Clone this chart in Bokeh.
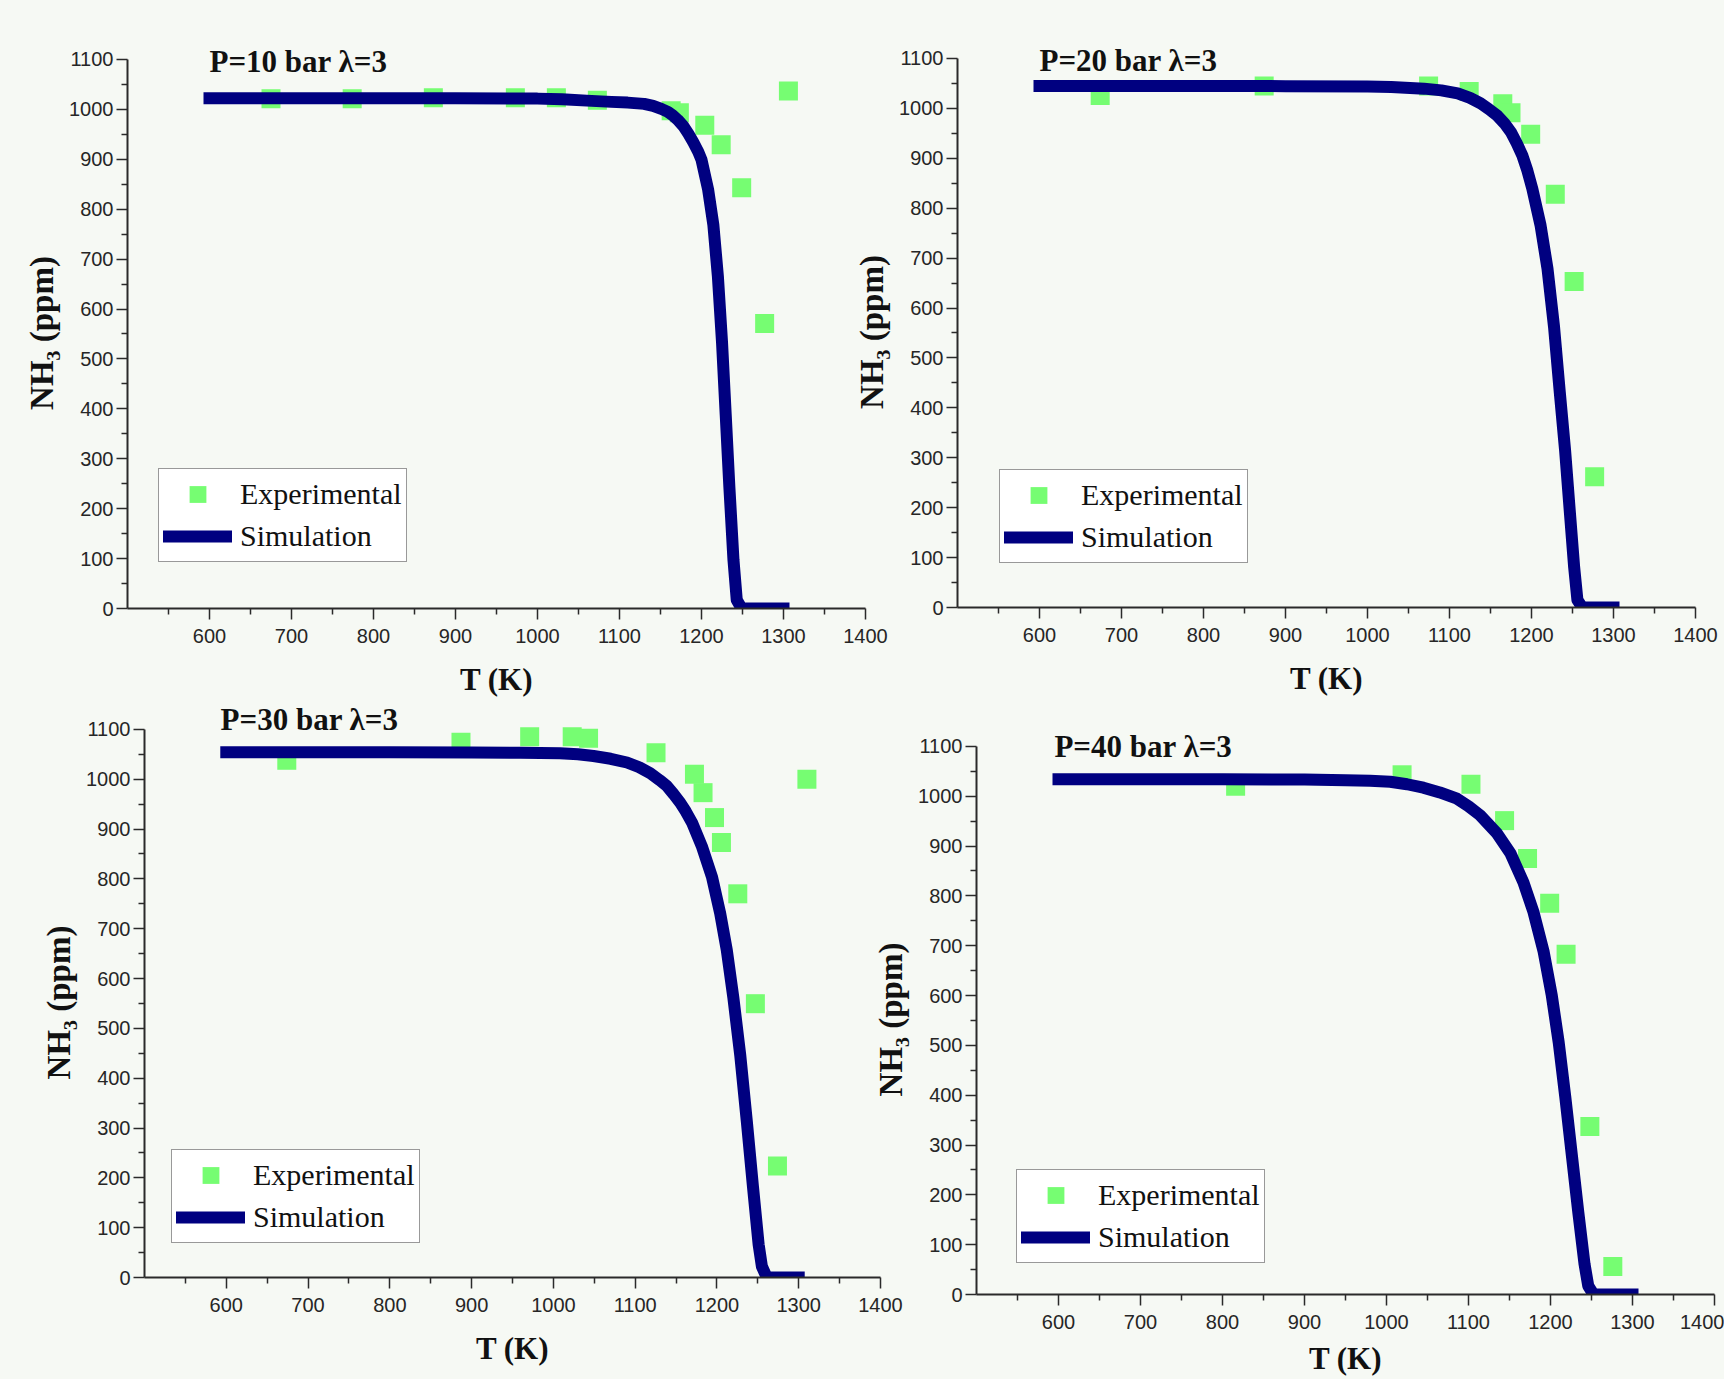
from bokeh.plotting import figure
from bokeh.layouts import column, row
from bokeh.models import (Range1d, FixedTicker, Label, Legend, LegendItem,
                          GlobalInlineStyleSheet)
from bokeh.embed import file_html
from bokeh.resources import INLINE

# ---------------- data ----------------
titles = ["P=10 bar \u03bb=3", "P=20 bar \u03bb=3", "P=30 bar \u03bb=3", "P=40 bar \u03bb=3"]

exp_T_10 = [675, 774, 873, 973, 1023, 1073, 1163, 1173, 1204, 1224, 1249, 1277, 1306]
exp_N_10 = [1021, 1021, 1023, 1023, 1023, 1018, 997, 993, 968, 929, 843, 571, 1037]
sim_T_10 = [600, 700, 800, 900, 1000, 1030, 1060, 1090, 1110, 1130, 1141, 1151, 1159, 1165,
            1171, 1178, 1184, 1190, 1196, 1200, 1208, 1214.5, 1220, 1225, 1229.5, 1234,
            1239, 1243, 1249, 1300]
sim_N_10 = [1022, 1022, 1022, 1022, 1021.5, 1020, 1017.5, 1015, 1013.5, 1011, 1007, 1001, 995, 988,
            979, 966, 951, 934, 915, 899, 840, 768, 665, 534, 389, 243,
            97, 17, 0, 0]

exp_T_20 = [674, 874, 1074.5, 1124, 1165, 1175, 1199, 1229, 1252, 1277]
exp_N_20 = [1026, 1045, 1045, 1034, 1009, 991, 948, 828, 653, 262]
sim_T_20 = [600, 700, 800, 900, 1000, 1029, 1069, 1090, 1110, 1125, 1138, 1148, 1158.5, 1167,
            1175, 1182, 1189, 1195, 1201, 1211, 1219.5, 1227.5, 1234.5, 1241, 1246.5,
            1252, 1256, 1262, 1300]
sim_N_20 = [1045, 1045, 1045, 1044.5, 1044, 1043, 1039.5, 1036, 1030, 1021, 1010, 998.5, 985, 970,
            952, 930, 905, 875, 839, 766, 679, 562, 431, 314, 197,
            81, 15, 0, 0]

exp_T_30 = [674, 887, 971, 1023, 1043, 1125.5, 1172.5, 1183, 1197, 1205.5, 1225.5, 1247, 1274, 1310]
exp_N_30 = [1038, 1074, 1085, 1085, 1082, 1053, 1010, 973, 923, 873, 770, 549.5, 224, 1000]
sim_T_30 = [600, 700, 800, 900, 960, 1008, 1030, 1049, 1070, 1090, 1105, 1118.5, 1130, 1139,
            1147, 1155, 1162, 1169.5, 1181.5, 1194, 1204, 1212, 1220, 1228.5, 1236.5,
            1244, 1251, 1255, 1261, 1300]
sim_N_30 = [1054, 1054, 1054, 1053.5, 1053, 1052, 1050, 1046.5, 1041, 1033.5, 1024, 1012, 998, 986,
            970, 953, 935, 913, 865.5, 803.5, 730.5, 657.5, 562.5, 446, 314,
            183, 66, 22, 0, 0]

exp_T_40 = [816, 1019, 1103, 1144, 1172, 1199, 1219, 1248, 1276]
exp_N_40 = [1020, 1043, 1024, 951, 875, 785, 683, 337, 56]
sim_T_40 = [600, 700, 800, 900, 950, 980, 1004.5, 1025, 1045, 1065, 1086, 1100, 1114, 1134.5,
            1151, 1167, 1179, 1191.5, 1201.5, 1210, 1218, 1226, 1234, 1241.5, 1246,
            1252.5, 1300]
sim_N_40 = [1034, 1034, 1034, 1033.5, 1032, 1031, 1029, 1024, 1017, 1007.5, 995, 980, 962, 926,
            886, 827, 769, 689, 601, 506, 397, 280, 163.5, 61, 17.5,
            0, 0]

x_ticks = [600, 700, 800, 900, 1000, 1100, 1200, 1300, 1400]
x_minor = [550, 650, 750, 850, 950, 1050, 1150, 1250, 1350]
y_ticks = [0, 100, 200, 300, 400, 500, 600, 700, 800, 900, 1000, 1100]
y_minor = [50, 150, 250, 350, 450, 550, 650, 750, 850, 950, 1050]

# ---------------- style ----------------
GREEN = "#76fd72"
NAVY = "#000080"
AXIS = "#2a2a2a"
SERIF = "Liberation Serif"
SANS = "Liberation Sans"
Y_TOP = 1170   # plot area extends a little above the 1100 axis end so the titles fit
NBSP = "\u00a0"


def make_panel(title, eT, eN, sT, sN, frame, borders, margin, legend_loc, title_pos,
               x_standoffs=(9, 16)):
    left, right, top, bottom = borders
    fw, fh = frame
    p = figure(frame_width=fw, frame_height=fh,
               output_backend="svg", toolbar_location=None, title=None,
               x_range=Range1d(500, 1400), y_range=Range1d(0, Y_TOP),
               min_border_left=left, min_border_right=right,
               min_border_top=top, min_border_bottom=bottom,
               background_fill_alpha=0, border_fill_alpha=0,
               outline_line_color=None)
    p.margin = margin
    p.grid.visible = False

    sc = p.scatter(eT, eN, marker="square", size=19, fill_color=GREEN, line_color=None)
    ln = p.line(sT, sN, line_width=12, line_color=NAVY, line_cap="square", line_join="round")

    xa = p.xaxis[0]
    ya = p.yaxis[0]
    xa.ticker = FixedTicker(ticks=x_ticks, minor_ticks=x_minor)
    ya.ticker = FixedTicker(ticks=y_ticks, minor_ticks=y_minor)
    ya.bounds = (0, 1100)
    xa.axis_label = "T (K)"
    # trailing no-break spaces keep the label centred on the 0-1100 axis span
    ya.axis_label = "NH\u2083 (ppm)" + NBSP * 4
    for ax in (xa, ya):
        ax.axis_line_width = 2
        ax.axis_line_color = AXIS
        ax.major_tick_line_color = AXIS
        ax.minor_tick_line_color = AXIS
        ax.major_tick_line_width = 1.5
        ax.minor_tick_line_width = 1.5
        ax.major_tick_out = 11
        ax.major_tick_in = 0
        ax.minor_tick_out = 6
        ax.minor_tick_in = 0
        ax.major_label_text_font = SANS
        ax.major_label_text_font_size = "20px"
        ax.major_label_text_color = "#262626"
        ax.axis_label_text_font = SERIF
        ax.axis_label_text_font_style = "bold"
        ax.axis_label_text_color = "#111111"
    xa.axis_label_text_font_size = "31px"
    ya.axis_label_text_font_size = "33px"
    xa.major_label_standoff = x_standoffs[0]
    xa.axis_label_standoff = x_standoffs[1]
    ya.major_label_standoff = 3
    ya.axis_label_standoff = 6

    legend = Legend(items=[LegendItem(label="Experimental", renderers=[sc]),
                           LegendItem(label="Simulation", renderers=[ln])],
                    location=legend_loc, orientation="vertical",
                    border_line_color="#333333", border_line_width=1.5,
                    background_fill_color="white", background_fill_alpha=1,
                    padding=4, spacing=0, margin=0,
                    glyph_width=69, glyph_height=42, label_height=42,
                    label_standoff=8, label_text_font=SERIF,
                    label_text_font_size="30px", label_text_color="#111111")
    p.add_layout(legend)

    p.add_layout(Label(x=title_pos[0], y=title_pos[1], x_units="data", y_units="data",
                       text=title, text_font=SERIF, text_font_style="bold",
                       text_font_size="31px", text_color="#111111",
                       text_baseline="alphabetic", text_align="left"))
    return p


# borders: (left, right, top, bottom); margins: (top, right, bottom, left)
f1 = make_panel(titles[0], exp_T_10, exp_N_10, sim_T_10, sim_N_10,
                (738, 584), (127, 38, 48, 98), (-24, 0, 0, 0), (31, 46), (600, 1095))
f2 = make_panel(titles[1], exp_T_20, exp_N_20, sim_T_20, sim_N_20,
                (738, 584), (109, 29, 48, 99), (-25, 0, 0, -55), (42, 44), (600, 1096))
f3 = make_panel(titles[2], exp_T_30, exp_N_30, sim_T_30, sim_N_30,
                (736, 583), (144, 23, 48, 102), (-60, 0, 0, 0), (27, 34), (593, 1120))
f4 = make_panel(titles[3], exp_T_40, exp_N_40, sim_T_40, sim_N_40,
                (738, 583), (113, 10, 48, 98), (-43, 0, 0, -40), (40, 31), (595, 1099),
                x_standoffs=(9, 9))

sheet = GlobalInlineStyleSheet(css="html, body { background-color: #f6f9f4; overflow: hidden; }")
p = column(row(f1, f2), row(f3, f4), stylesheets=[sheet])

open("out.html", "w").write(file_html(p, INLINE))
